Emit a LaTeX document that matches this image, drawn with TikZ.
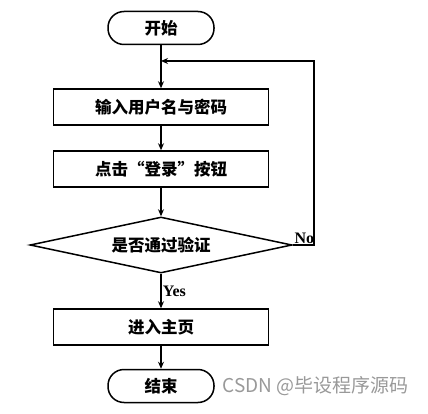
\documentclass[tikz,border=0pt]{standalone}
\usepackage{fontspec}
\setmainfont{Liberation Serif}
\newfontfamily\cjk{Noto Sans CJK SC}[BoldFont={Noto Sans CJK SC Black}]
\usetikzlibrary{arrows.meta}
\usetikzlibrary{shapes.geometric}

\tikzset{
  term/.style={draw, rounded corners=16pt, minimum width=106pt, minimum height=33pt, font=\cjk\bfseries\fontsize{16.5}{16.5}\selectfont},
  proc/.style={draw, minimum width=215pt, minimum height=36pt, font=\cjk\bfseries\fontsize{16.5}{16.5}\selectfont},
  decide/.style={draw, diamond, aspect=4.68, inner sep=0pt, minimum width=262pt, minimum height=56pt, font=\cjk\bfseries\fontsize{16.5}{16.5}\selectfont},
  tag/.style={font=\bfseries\fontsize{16}{16}\selectfont, inner sep=1pt}
}

\begin{document}
\begin{tikzpicture}[x=1pt, y=-1pt, line width=1.5pt, >={Stealth[length=7pt, width=6pt]}]
\useasboundingbox (0,0) rectangle (428,414);
\node [term] (start) at (161, 28) {开始};
\node [proc] (input) at (161, 107) {输入用户名与密码};
\node [proc] (click) at (161, 169) {点击“登录”按钮};
\node [decide] (check) at (161, 245) {是否通过验证};
\node [proc] (home) at (161, 327) {进入主页};
\node [term] (finish) at (161, 386) {结束};
\coordinate (merge) at (161, 61);
\draw [->] (start) -- (input);
\draw [->] (input) -- (click);
\draw [->] (click) -- (check);
\draw [->] (check) -- node [tag, right, pos=0.5] {Yes} (home);
\draw [->] (home) -- (finish);
\draw [->] (check.east) -- ++(21, 0) coordinate (turn) |- (merge);
\node at (check.east) [tag, anchor=south west] {No};
\node [text=black!40, anchor=west, inner sep=0pt] (mark) at (222, 386) {\cjk\fontsize{19}{19}\selectfont CSDN @毕设程序源码};
\end{tikzpicture}
\end{document}
